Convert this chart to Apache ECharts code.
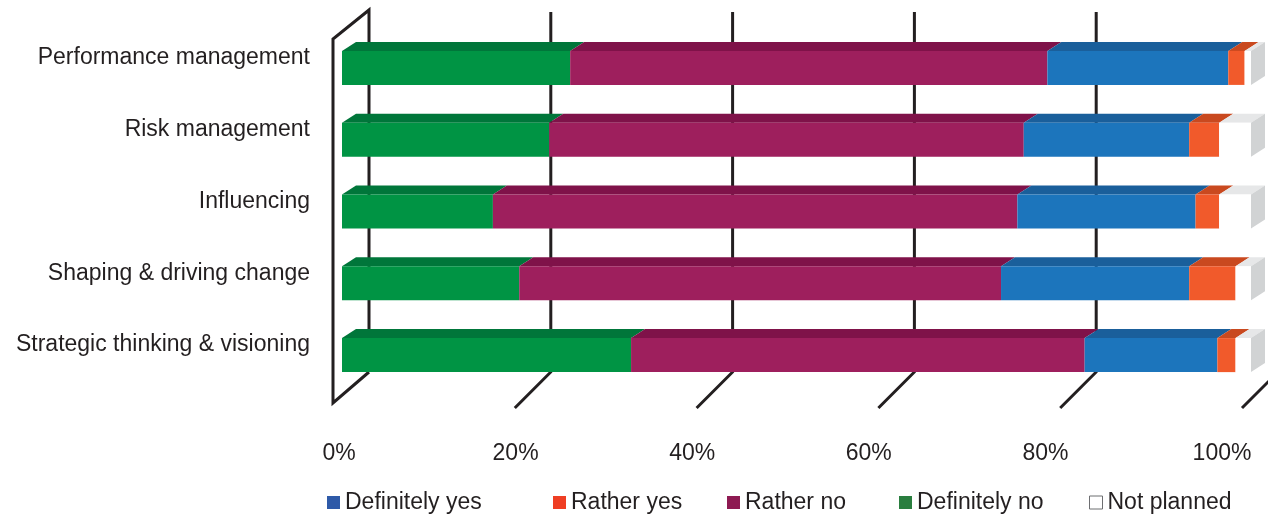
<!DOCTYPE html>
<html>
<head>
<meta charset="utf-8">
<script src="https://cdn.jsdelivr.net/npm/echarts@6/dist/echarts.min.js"></script>
<style>
html,body{margin:0;padding:0;background:#fff;}
#chart{width:1268px;height:518px;}
</style>
</head>
<body>
<div id="chart"></div>
<script>
var categories = ['Performance management', 'Risk management', 'Influencing', 'Shaping & driving change', 'Strategic thinking & visioning'];
var tickLabels = ['0%', '20%', '40%', '60%', '80%', '100%'];
var tickValues = [0, 20, 40, 60, 80, 100];

var definitelyNo  = [25.1, 22.8, 16.6, 19.5, 31.8];
var ratherNo      = [52.5, 52.2, 57.7, 53.0, 49.9];
var definitelyYes = [19.9, 18.2, 19.6, 20.7, 14.6];
var ratherYes     = [1.8, 3.3, 2.6, 5.1, 2.0];
var notPlanned    = [0.7, 3.5, 3.5, 1.7, 1.7];

var legendOrder = ['Definitely yes', 'Rather yes', 'Rather no', 'Definitely no', 'Not planned'];

var stackDefs = [
  {name: 'Definitely no',  values: definitelyNo,  front: '#009444', top: '#00763a', side: '#006530', legend: '#2a7e3f'},
  {name: 'Rather no',      values: ratherNo,      front: '#9e1f5d', top: '#7f1249', side: '#6d0f3e', legend: '#8e1a52'},
  {name: 'Definitely yes', values: definitelyYes, front: '#1c75bc', top: '#1a5f9b', side: '#16508a', legend: '#2e5aa8'},
  {name: 'Rather yes',     values: ratherYes,     front: '#f15a2b', top: '#c9491f', side: '#b0401b', legend: '#ef3e23'},
  {name: 'Not planned',    values: notPlanned,    front: '#ffffff', top: '#e6e7e8', side: '#d1d3d4', legend: '#ffffff'}
];

var DX = 14, DY = -9;           // bar depth offset
var LINE = '#231f20';
var FONT = "'Liberation Sans', Arial, sans-serif";

var cum = categories.map(function () { return 0; });
var series = [];

// wall + gridlines + floor lines
series.push({
  type: 'custom',
  name: '_grid',
  xAxisIndex: 0, yAxisIndex: 0,
  silent: true,
  clip: false,
  z: 1,
  data: tickValues.map(function (v) { return [v, 0]; }),
  encode: {x: 0, y: 1},
  renderItem: function (params, api) {
    var v = api.value(0);
    var c = api.coord([v, 0])[0];
    var cs = params.coordSys;
    var top = cs.y, bot = cs.y + cs.height;
    var style = {stroke: LINE, lineWidth: 3, fill: null, lineJoin: 'miter'};
    if (v === 0) {
      return {
        type: 'polyline',
        shape: {points: [[c + 27, bot - 19], [c - 9, bot + 12], [c - 9, top + 7], [c + 27, top - 22], [c + 27, bot - 19]]},
        style: style
      };
    }
    return {
      type: 'polyline',
      shape: {points: [[c + 27, top - 20], [c + 27, bot - 19], [c - 9, bot + 17]]},
      style: style
    };
  }
});

stackDefs.forEach(function (def, k) {
  var isLast = k === stackDefs.length - 1;
  var data = def.values.map(function (v, i) {
    var s = cum[i];
    cum[i] = s + v;
    return [s, i, s + v];
  });
  series.push({
    type: 'custom',
    name: def.name,
    xAxisIndex: 0, yAxisIndex: 0,
    clip: false,
    z: 2,
    itemStyle: isLast ? {color: '#ffffff', borderColor: '#6d6e71', borderWidth: 1} : {color: def.legend},
    data: data,
    encode: {x: [0, 2], y: 1},
    renderItem: function (params, api) {
      var s = api.value(0), c = api.value(1), e = api.value(2);
      var p0 = api.coord([s, c]);
      var p1 = api.coord([e, c]);
      var h = api.size([0, 1])[1] * 0.474;
      var y0 = p0[1] - h / 2, y1 = p0[1] + h / 2;
      var x0 = p0[0], x1 = p1[0];
      var children = [
        {type: 'polygon', shape: {points: [[x0, y0], [x1, y0], [x1 + DX, y0 + DY], [x0 + DX, y0 + DY]]}, style: {fill: def.top}},
        {type: 'rect', shape: {x: x0, y: y0, width: x1 - x0, height: h}, style: {fill: def.front}}
      ];
      if (isLast) {
        children.push({type: 'polygon', shape: {points: [[x1, y0], [x1 + DX, y0 + DY], [x1 + DX, y1 + DY], [x1, y1]]}, style: {fill: def.side}});
      }
      return {type: 'group', children: children};
    }
  });
});

var legendLefts = [327, 553, 727, 899, 1089];
var legends = legendOrder.map(function (name, i) {
  var def = stackDefs.filter(function (d) { return d.name === name; })[0];
  var item = {name: name, itemStyle: name === 'Not planned' ? {color: '#ffffff', borderColor: '#6d6e71', borderWidth: 1} : {color: def.legend}};
  return {
    data: [item],
    left: legendLefts[i],
    top: 491,
    padding: 0,
    icon: 'rect',
    itemWidth: 13,
    itemHeight: 13,
    itemGap: 0,
    selectedMode: false,
    textStyle: {fontFamily: FONT, fontSize: 23, color: LINE, padding: [0, 0, 0, 0]}
  };
});

var chart = echarts.init(document.getElementById('chart'), null, {renderer: 'canvas'});
chart.setOption({
  animation: false,
  backgroundColor: '#ffffff',
  legend: legends,
  grid: [
    {left: 342, right: 17, top: 32, height: 359},
    {left: 339, right: 46, top: 22, height: 359}
  ],
  xAxis: [
    {type: 'value', gridIndex: 0, min: 0, max: 100, interval: 20, show: false},
    {type: 'category', gridIndex: 1, data: tickLabels, boundaryGap: false,
     axisLine: {show: false}, axisTick: {show: false}, splitLine: {show: false},
     axisLabel: {margin: 61, fontFamily: FONT, fontSize: 23, color: LINE, interval: 0}}
  ],
  yAxis: [
    {type: 'category', gridIndex: 0, data: categories, inverse: true, show: false},
    {type: 'category', gridIndex: 1, data: categories, inverse: true,
     axisLine: {show: false}, axisTick: {show: false}, splitLine: {show: false},
     axisLabel: {margin: 29, fontFamily: FONT, fontSize: 23, color: LINE, interval: 0}}
  ],
  series: series
});
</script>
</body>
</html>
